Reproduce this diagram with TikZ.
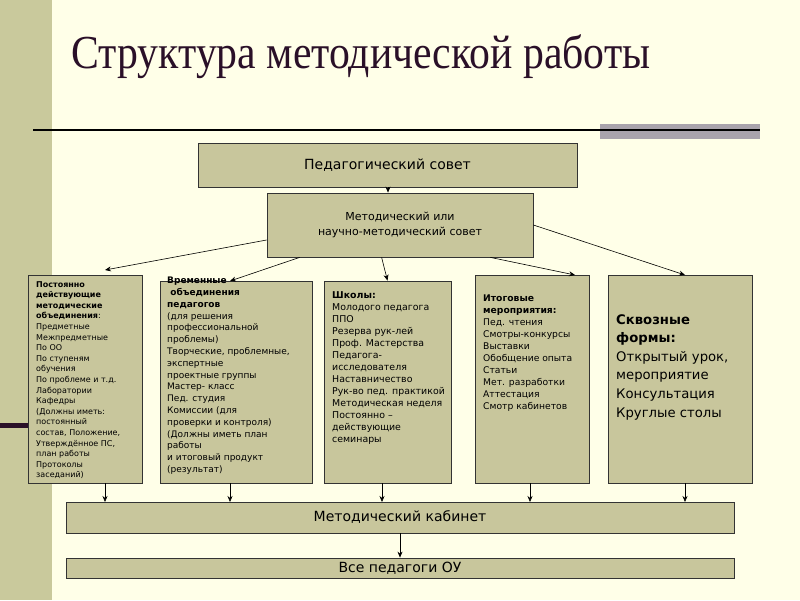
\documentclass[tikz,border=0pt]{standalone}
\usepackage{fontspec}
\setmainfont{DejaVu Sans}
\newfontfamily\ttl{Liberation Serif}
\usetikzlibrary{arrows.meta}
\definecolor{bg}{HTML}{FFFFE8}
\definecolor{strip}{HTML}{C9C99C}
\definecolor{boxf}{HTML}{C8C69C}
\definecolor{graybar}{HTML}{A9A3AC}
\definecolor{ttlc}{HTML}{2A1028}
\tikzset{bx/.style={draw=black!80,fill=boxf,line width=0.8pt},
 ar/.style={-{Stealth[length=6pt,width=5pt]},line width=0.6pt},
 sm/.style={font=\fontsize{9}{12}\selectfont,align=left,anchor=north west,inner sep=0pt}}
\begin{document}
\begin{tikzpicture}[x=1pt,y=-1pt]
\fill[bg] (0,0) rectangle (800,600);
\useasboundingbox (0,0) rectangle (800,600);
\fill[strip] (0,0) rectangle (52,600);
\fill[ttlc] (0,423) rectangle (28,428);
\node[anchor=west,text=ttlc,font=\ttl\fontsize{43}{45}\selectfont,xscale=0.97,yscale=1.1] (title) at (68,57) {Структура методической работы};
\fill[graybar] (600,124) rectangle (760,139);
\draw[line width=1.6pt] (33,130) -- (760,130);
\node[bx,minimum width=379pt,minimum height=44pt,font=\fontsize{14}{16}\selectfont] (ps) at (387.5,165) {Педагогический совет};
\node[bx,minimum width=266pt,minimum height=64pt,align=center,font=\fontsize{11}{15}\selectfont] (ms) at (400,225) {Методический или\\научно-методический совет};
\node[bx,minimum width=114pt,minimum height=208pt] (b1) at (85,379) {};
\node[bx,minimum width=152pt,minimum height=202pt] (b2) at (236,382) {};
\node[bx,minimum width=127pt,minimum height=202pt] (b3) at (387.5,382) {};
\node[bx,minimum width=114pt,minimum height=208pt] (b4) at (532,379) {};
\node[bx,minimum width=144pt,minimum height=208pt] (b5) at (680,379) {};
\node[sm,font=\fontsize{8}{10.6}\selectfont] (t1) at (36,281) {\textbf{Постоянно}\\\textbf{действующие}\\\textbf{методические}\\\textbf{объединения}:\\Предметные\\Межпредметные\\По ОО\\По ступеням\\обучения\\По проблеме и т.д.\\Лаборатории\\Кафедры\\(Должны иметь:\\постоянный\\состав, Положение,\\Утверждённое ПС,\\план работы\\Протоколы\\заседаний)};
\node[sm,font=\fontsize{9}{11.8}\selectfont] (t2) at (167,277) {\textbf{Временные}\\\textbf{\ объединения}\\\textbf{педагогов}\\(для решения\\профессиональной\\проблемы)\\Творческие, проблемные,\\экспертные\\проектные группы\\Мастер- класс\\Пед. студия\\Комиссии (для\\проверки и контроля)\\(Должны иметь план\\работы\\и итоговый продукт\\(результат)};
\node[sm,font=\fontsize{9.4}{12}\selectfont] (t3) at (332,291) {\textbf{Школы:}\\Молодого педагога\\ППО\\Резерва рук-лей\\Проф. Мастерства\\Педагога-\\исследователя\\Наставничество\\Рук-во пед. практикой\\Методическая неделя\\Постоянно –\\действующие\\семинары};
\node[sm,font=\fontsize{9.2}{12}\selectfont] (t4) at (483,295) {\textbf{Итоговые}\\\textbf{мероприятия:}\\Пед. чтения\\Смотры-конкурсы\\Выставки\\Обобщение опыта\\Статьи\\Мет. разработки\\Аттестация\\Смотр кабинетов};
\node[sm,font=\fontsize{13.2}{18.6}\selectfont] (t5) at (616,314) {\textbf{Сквозные}\\\textbf{формы:}\\Открытый урок,\\мероприятие\\Консультация\\Круглые столы};
\node[bx,minimum width=668pt,minimum height=31pt,font=\fontsize{14}{16}\selectfont] (mk) at (400,517.5) {Методический кабинет};
\node[bx,minimum width=668pt,minimum height=20pt,inner sep=0pt,font=\fontsize{14}{16}\selectfont] (vp) at (400,568) {Все педагоги ОУ};
\draw[ar] (ps.south -| 388,0) -- (ms.north -| 388,0);
\draw[ar] (ms.west) ++(0,15) -- (105,270);
\draw[ar] (ms.south west) ++(33,0) -- (230,281);
\draw[ar] (ms.south west) ++(115,0) -- (b3.north);
\draw[ar] (ms.south east) ++(-43,0) -- (575,275);
\draw[ar] (ms.east) -- (685,275);
\foreach \b/\x in {b1/105,b2/230,b3/382,b4/530,b5/685}
  \draw[ar] (\b.south -| \x,0) -- (\x,502);
\draw[ar] (mk.south) -- (vp.north);
\end{tikzpicture}
\end{document}
